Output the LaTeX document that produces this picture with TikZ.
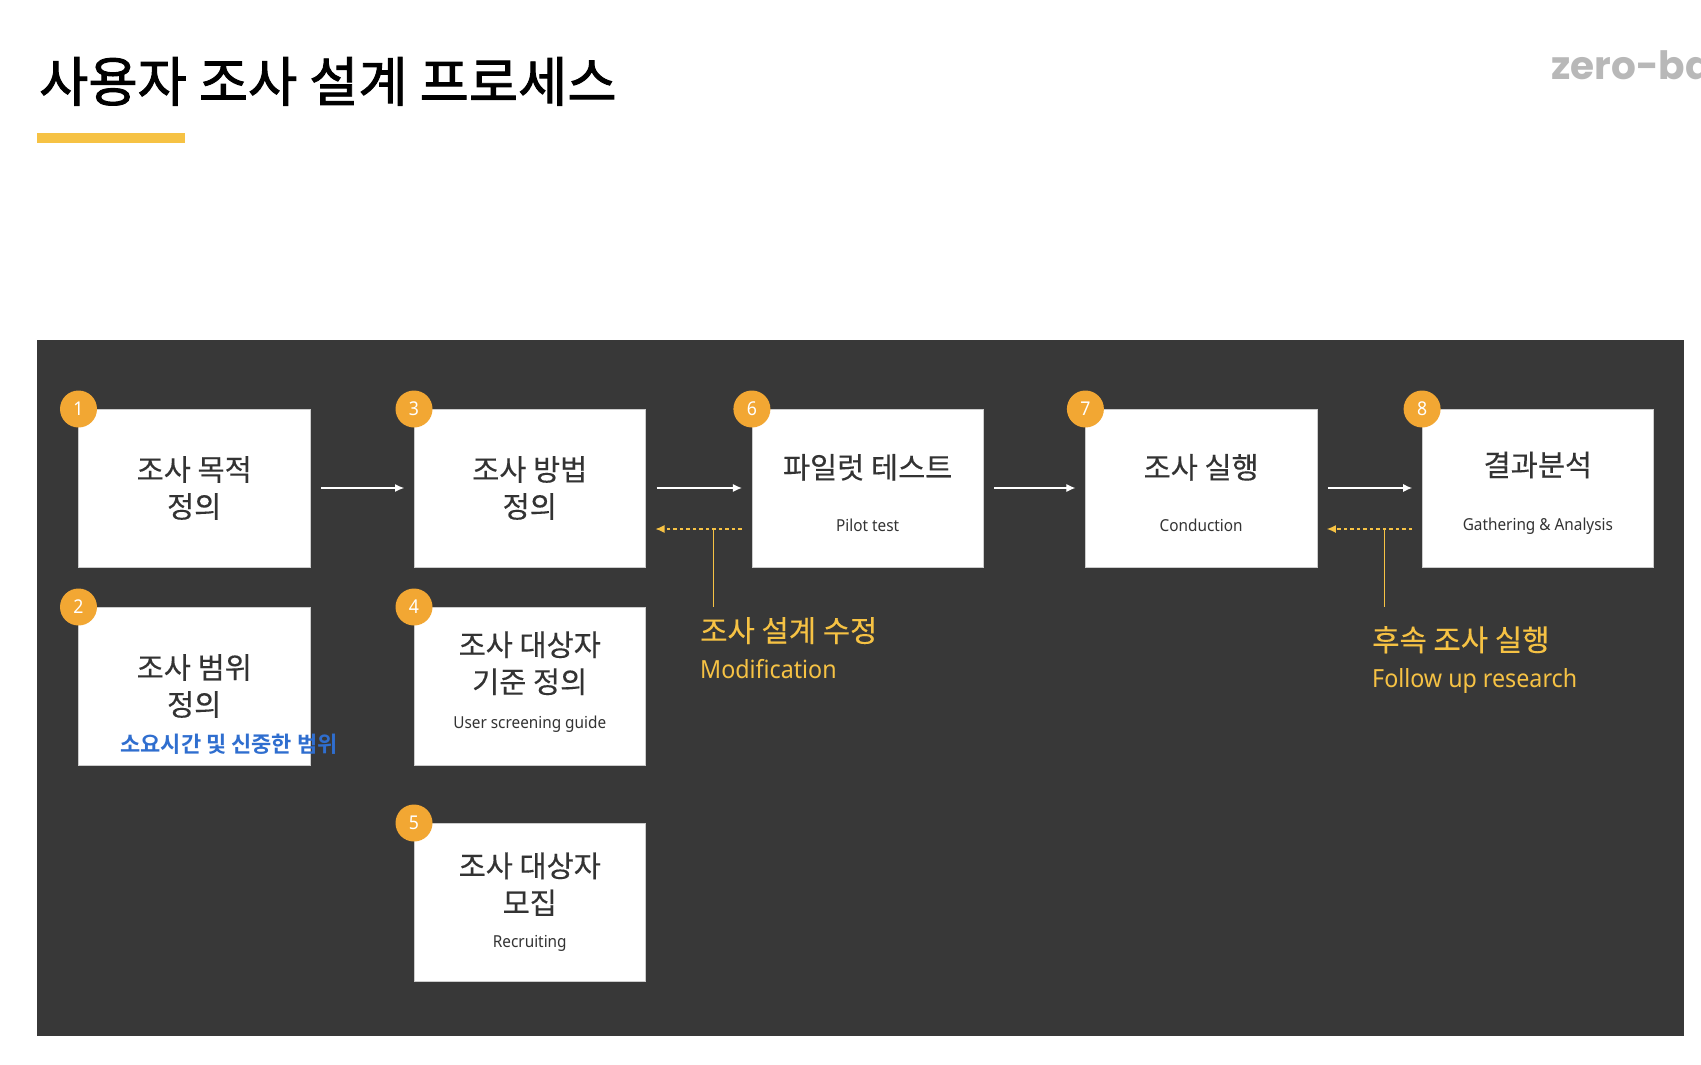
\documentclass[tikz,border=0pt]{standalone}
\usepackage{fontspec}
\setmainfont{Noto Sans CJK KR}[FakeBold=0.25]
\newfontfamily\titlefont{Noto Sans CJK KR}[FakeBold=1.8]
\newfontfamily\penfont{Noto Sans CJK KR Bold}
\newfontfamily\latinfont{Noto Sans}[FakeStretch=0.93]
\newfontfamily\logofont{Poppins}
\usetikzlibrary{arrows.meta, positioning, calc}
\definecolor{zbPanel}{HTML}{383838}
\definecolor{zbInk}{HTML}{333333}
\definecolor{zbBadge}{HTML}{F2A733}
\definecolor{zbYellow}{HTML}{F6C244}
\definecolor{zbLogo}{HTML}{B8B8B8}
\definecolor{zbPen}{HTML}{2F6ECF}
\newcommand{\engl}[1]{{\latinfont\fontsize{16.5}{20}\selectfont #1}}
\newcommand{\padtop}{\rule{0pt}{34pt}}
\newcommand{\padbot}{\rule[-12pt]{0pt}{12pt}}

\begin{document}
\begin{tikzpicture}[
  x=1pt, y=-1pt,
  stepbox/.style={fill=white, draw=black!20, line width=0.4pt, inner sep=0pt, outer sep=0pt, minimum width=231.5pt, minimum height=158pt, align=center, text=zbInk, font=\fontsize{29.5}{37}\selectfont},
  badge/.style={circle, fill=zbBadge, text=white, minimum size=37pt, inner sep=0pt, font=\latinfont\fontsize{19}{19}\selectfont},
  flow/.style={-{Latex[length=9pt,width=8pt]}, line width=1.1pt, draw=white, shorten >=10pt, shorten <=11pt},
  back/.style={-{Latex[length=9pt,width=8pt]}, line width=1.2pt, draw=zbYellow, dash pattern=on 3.5pt off 3pt, shorten >=10pt, shorten <=10pt},
  stem/.style={line width=1.4pt, draw=zbYellow},
  note/.style={anchor=north west, inner sep=0pt, align=left, text=zbYellow, font=\fontsize{29.7}{40}\selectfont}
]
\useasboundingbox (0,0) rectangle (1701,1065);
\node[anchor=north west, inner sep=0pt, text=black, font=\titlefont\fontsize{53.5}{60}\selectfont] (title) at (39,57) {사용자 조사 설계 프로세스};
\node[anchor=north west, fill=zbYellow, inner sep=0pt, minimum width=148pt, minimum height=10pt] (rule) at (37,133) {};
\begin{scope}
\clip (1500,20) rectangle (1701,110);
\node[anchor=west, inner sep=0pt, text=zbLogo, font=\logofont\bfseries\fontsize{39}{39}\selectfont] (logo) at (1551,65) {zero-ba};
\end{scope}
\node[anchor=north west, fill=zbPanel, inner sep=0pt, minimum width=1647pt, minimum height=696pt] (panel) at (37,340) {};

\node[stepbox, anchor=north west] (goal) at (78.5,409) {조사 목적\\정의};
\node[stepbox, below=40pt of goal] (scope) {조사 범위\\정의};
\node[stepbox, right=104pt of goal] (method) {조사 방법\\정의};
\node[stepbox, below=40pt of method] (criteria) {조사 대상자\\기준 정의\\[-1.3pt]\engl{User screening guide}\padbot};
\node[stepbox, below=58pt of criteria] (recruit) {조사 대상자\\모집\\[-3.4pt]\engl{Recruiting}};
\node[stepbox, right=106.4pt of method] (pilot) {\padtop 파일럿 테스트\\[16pt]\engl{Pilot test}};
\node[stepbox, right=102pt of pilot] (conduct) {\padtop 조사 실행\\[16pt]\engl{Conduction}};
\node[stepbox, right=105.2pt of conduct] (result) {\padtop 결과분석\\[17pt]\engl{Gathering \& Analysis}};

\node[anchor=center, inner sep=0pt, text=zbPen, font=\penfont\fontsize{22}{22}\selectfont] (pen) at (229,744) {소요시간 및 신중한 범위};

\node[badge] (b1) at (goal.north west) {1};
\node[badge] (b2) at (scope.north west) {2};
\node[badge] (b3) at (method.north west) {3};
\node[badge] (b4) at (criteria.north west) {4};
\node[badge] (b5) at (recruit.north west) {5};
\node[badge] (b6) at (pilot.north west) {6};
\node[badge] (b7) at (conduct.north west) {7};
\node[badge] (b8) at (result.north west) {8};

\draw[flow] (goal) -- (method);
\draw[flow] (method) -- (pilot);
\draw[flow] (pilot) -- (conduct);
\draw[flow] (conduct) -- (result);

\coordinate (fixa) at ($(pilot.west)+(0,41)$);
\coordinate (fixb) at (fixa -| method.east);
\coordinate (fixm) at ($(fixa)!0.36!(fixb)$);
\coordinate (nexta) at ($(result.west)+(0,41)$);
\coordinate (nextb) at (nexta -| conduct.east);
\coordinate (nextm) at ($(nexta)!0.36!(nextb)$);
\draw[back] (fixa) -- (fixb);
\draw[back] (nexta) -- (nextb);

\node[note] (fix) at (700,617) {조사 설계 수정\\[-3pt]{\latinfont\fontsize{25}{30}\selectfont Modification}};
\node[note] (next) at (1372,626) {후속 조사 실행\\[-3pt]{\latinfont\fontsize{25}{30}\selectfont Follow up research}};
\draw[stem] (fixm) -- (fixm |- scope.north);
\draw[stem] (nextm) -- (nextm |- scope.north);
\end{tikzpicture}
\end{document}
